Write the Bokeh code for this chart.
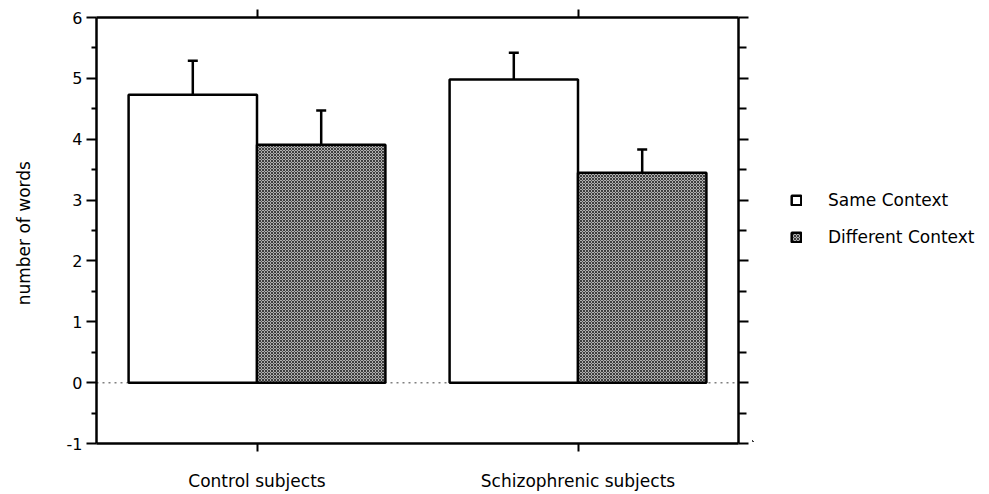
from bokeh.plotting import figure
from bokeh.layouts import row
from bokeh.models import (LinearAxis, FixedTicker, Range1d, Span, Whisker, TeeHead,
                          ColumnDataSource, Legend, LegendItem)
from bokeh.embed import file_html
from bokeh.resources import INLINE

# ---- data ----
groups = ["Control subjects", "Schizophrenic subjects"]
same_context = [4.73, 4.98]
diff_context = [3.91, 3.45]
same_err = [0.56, 0.44]
diff_err = [0.56, 0.38]
y_ticks = [-1, 0, 1, 2, 3, 4, 5, 6]
series_names = ["Same Context", "Different Context"]

FONT = "DejaVu Sans"
gpos = [i + 1 for i in range(len(groups))]
bar_w = 0.4
x_same = [g - bar_w / 2 for g in gpos]
x_diff = [g + bar_w / 2 for g in gpos]

src_same = ColumnDataSource(dict(x=x_same, top=same_context,
                                 up=[v + e for v, e in zip(same_context, same_err)]))
src_diff = ColumnDataSource(dict(x=x_diff, top=diff_context,
                                 up=[v + e for v, e in zip(diff_context, diff_err)]))

SAME_STYLE = dict(fill_color="white", line_color="black", line_width=2.5)
DIFF_STYLE = dict(fill_color="#b0b0b0", line_color="black", line_width=2.5,
                  hatch_pattern="diagonal_cross", hatch_color="#202020", hatch_scale=3,
                  hatch_weight=1, hatch_alpha=0.8)

p = figure(frame_width=642, frame_height=426, output_backend="svg", toolbar_location=None,
           x_range=Range1d(0.5, 2.5), y_range=Range1d(-1, 6),
           x_axis_location=None, y_axis_location=None,
           min_border_left=96, min_border_top=17, min_border_right=14, min_border_bottom=20)
p.outline_line_color = None
p.xgrid.visible = False
p.ygrid.visible = False
p.background_fill_color = "white"

minor = [t + 0.5 for t in y_ticks[:-1]]

def style(ax):
    ax.axis_line_width = 2.5
    ax.axis_line_color = "black"
    ax.major_tick_line_width = 2
    ax.minor_tick_line_width = 2
    ax.major_tick_in = 0
    ax.minor_tick_in = 0
    ax.major_label_text_font = FONT
    ax.major_label_text_color = "black"

def hide_labels(ax, ticks):
    ax.major_label_overrides = {t: "" for t in ticks}
    ax.major_label_text_font_size = "0px"
    ax.major_label_text_alpha = 0
    ax.major_label_standoff = 0

left = LinearAxis(ticker=FixedTicker(ticks=y_ticks, minor_ticks=minor),
                  major_label_overrides={t: str(t) for t in y_ticks})
style(left)
left.major_tick_out = 10
left.minor_tick_out = 5
left.major_label_text_font_size = "16px"
left.major_label_standoff = 4
left.axis_label = "number of  words"
left.axis_label_text_font = FONT
left.axis_label_text_font_size = "17px"
left.axis_label_text_font_style = "normal"
left.axis_label_text_color = "black"
left.axis_label_standoff = 30
p.add_layout(left, "left")

right = LinearAxis(ticker=FixedTicker(ticks=y_ticks, minor_ticks=minor))
style(right)
right.major_tick_out = 10
right.minor_tick_out = 8
hide_labels(right, y_ticks)
p.add_layout(right, "right")

bottom = LinearAxis(ticker=FixedTicker(ticks=gpos, minor_ticks=[]),
                    major_label_overrides={g: n for g, n in zip(gpos, groups)})
style(bottom)
bottom.major_tick_out = 8
bottom.minor_tick_out = 0
bottom.major_label_text_font_size = "17px"
bottom.major_label_standoff = 19
p.add_layout(bottom, "below")

top = LinearAxis(ticker=FixedTicker(ticks=gpos, minor_ticks=[]))
style(top)
top.major_tick_out = 8
top.minor_tick_out = 0
hide_labels(top, gpos)
p.add_layout(top, "above")

zero = Span(location=0, dimension="width", line_color="#808080", line_width=1.5,
            line_dash="dotted", level="underlay")
p.add_layout(zero)

r_same = p.vbar(x="x", top="top", bottom=0, width=bar_w, source=src_same, **SAME_STYLE)
r_diff = p.vbar(x="x", top="top", bottom=0, width=bar_w, source=src_diff, **DIFF_STYLE)

for src in (src_same, src_diff):
    w = Whisker(base="x", lower="top", upper="up", source=src, dimension="height",
                line_color="black", line_width=2.5, lower_head=None,
                upper_head=TeeHead(size=10, line_width=2.5, line_color="black"))
    p.add_layout(w)

# ---- legend panel (same series drawn off-view, only their legend is shown) ----
p2 = figure(width=233, height=491, output_backend="svg", toolbar_location=None,
            x_range=Range1d(100, 101), y_range=Range1d(100, 101),
            x_axis_location=None, y_axis_location=None, min_border=0)
p2.outline_line_color = None
p2.xgrid.visible = False
p2.ygrid.visible = False
l_same = p2.vbar(x="x", top="top", bottom=0, width=bar_w, source=src_same, **SAME_STYLE)
l_diff = p2.vbar(x="x", top="top", bottom=0, width=bar_w, source=src_diff, **DIFF_STYLE)
legend = Legend(items=[LegendItem(label=series_names[0], renderers=[l_same]),
                       LegendItem(label=series_names[1], renderers=[l_diff])],
                location=(38, 194), orientation="vertical",
                glyph_width=12, glyph_height=12, label_standoff=26, spacing=17,
                padding=0, margin=0, border_line_color=None, background_fill_alpha=0,
                label_text_font=FONT, label_text_font_size="17px", label_text_color="black")
p2.add_layout(legend)

layout = row(p, p2, spacing=0)
open("out.html", "w").write(file_html(layout, INLINE))
